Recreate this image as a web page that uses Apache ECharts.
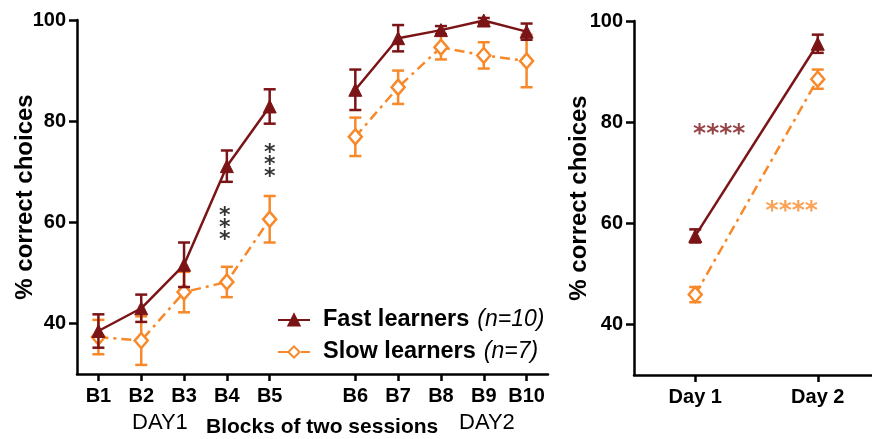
<!DOCTYPE html>
<html>
<head>
<meta charset="utf-8">
<script src="https://cdn.jsdelivr.net/npm/echarts@6/dist/echarts.min.js"></script>
<style>
  html, body { margin: 0; padding: 0; background: #fff; }
  #c { width: 872px; height: 439px; }
</style>
</head>
<body>
<div id="c"></div>
<script>
// ---- data ----
const blocks = ['B1', 'B2', 'B3', 'B4', 'B5', '', 'B6', 'B7', 'B8', 'B9', 'B10'];
const fastMean = [38.5, 43.0, 51.6, 71.1, 82.9, null, 86.2, 96.4, 98.0, 99.9, 97.7];
const fastErr  = [3.3, 2.7, 4.4, 3.1, 3.4, null, 4.0, 2.6, 0.8, 0.5, 1.6];
const slowMean = [37.3, 36.6, 46.2, 48.2, 60.6, null, 76.9, 86.7, 94.6, 93.0, 91.9];
const slowErr  = [3.4, 4.8, 4.0, 3.0, 4.6, null, 3.8, 3.3, 2.4, 2.6, 5.2];

const days = ['Day 1', 'Day 2'];
const dayFastMean = [57.5, 95.5];
const dayFastErr  = [1.3, 1.8];
const daySlowMean = [45.9, 88.5];
const daySlowErr  = [1.5, 1.9];

const yTicks = [40, 60, 80, 100];

const legendNames = ['Fast learners', 'Slow learners'];
const legendN = { 'Fast learners': '(n=10)', 'Slow learners': '(n=7)' };

// ---- styles ----
const RED = '#7B1416';
const ORANGE = '#F7892A';
const FONT = '"Liberation Sans", Arial, Helvetica, sans-serif';
const STAR_FONT = '"DejaVu Sans", sans-serif';
const DASH = [10, 5, 3, 5];

function meanData(m) { return m.map(v => (v == null ? '-' : v)); }
function errData(m, e) {
  const out = [];
  m.forEach((v, i) => { if (v != null) out.push([i, v - e[i], v + e[i]]); });
  return out;
}
function errRender(color) {
  return function (params, api) {
    const x = api.value(0);
    const lo = api.coord([x, api.value(1)]);
    const hi = api.coord([x, api.value(2)]);
    const w = 6;
    const style = { stroke: color, lineWidth: 2.5, fill: null };
    return {
      type: 'group',
      children: [
        { type: 'line', shape: { x1: lo[0], y1: lo[1], x2: hi[0], y2: hi[1] }, style },
        { type: 'line', shape: { x1: lo[0] - w, y1: lo[1], x2: lo[0] + w, y2: lo[1] }, style },
        { type: 'line', shape: { x1: hi[0] - w, y1: hi[1], x2: hi[0] + w, y2: hi[1] }, style }
      ]
    };
  };
}

const axisLineStyle = { lineStyle: { color: '#000', width: 2.5 } };

function yAxisFor(gridIndex, nameGap) {
  return {
    type: 'value', gridIndex, min: 30, max: 100,
    name: '% correct choices', nameLocation: 'middle', nameGap, nameRotate: 90, nameMoveOverlap: false,
    nameTextStyle: { fontFamily: FONT, fontWeight: 'bold', fontSize: 24, color: '#000' },
    axisLine: Object.assign({ show: true }, axisLineStyle),
    axisTick: { show: true, length: 8, inside: false, lineStyle: { color: '#000', width: 2.5 }, customValues: yTicks },
    axisLabel: { show: true, margin: 11, fontFamily: FONT, fontWeight: 'bold', fontSize: 20, color: '#000', customValues: yTicks },
    splitLine: { show: false }
  };
}

const chart = echarts.init(document.getElementById('c'), null, { renderer: 'canvas' });

const option = {
  animation: false,
  backgroundColor: '#fff',
  grid: [
    { left: 77, top: 20, width: 471, height: 354, outerBoundsMode: 'none', containLabel: false },
    { left: 634, top: 21, width: 245, height: 354, outerBoundsMode: 'none', containLabel: false }
  ],
  xAxis: [
    {
      type: 'category', gridIndex: 0, data: blocks, boundaryGap: true,
      axisLine: Object.assign({ show: true }, axisLineStyle),
      axisTick: { show: true, alignWithLabel: true, length: 7, lineStyle: { color: '#000', width: 2.5 },
        interval: (i, v) => v !== '' },
      axisLabel: { interval: 0, margin: 12, fontFamily: FONT, fontWeight: 'bold', fontSize: 20, color: '#000' }
    },
    {
      type: 'category', gridIndex: 1, data: days, boundaryGap: true,
      axisLine: Object.assign({ show: true }, axisLineStyle),
      axisTick: { show: true, alignWithLabel: true, length: 7, lineStyle: { color: '#000', width: 2.5 } },
      axisLabel: { interval: 0, margin: 12, fontFamily: FONT, fontWeight: 'bold', fontSize: 20, color: '#000' }
    }
  ],
  yAxis: [yAxisFor(0, 40), yAxisFor(1, 43)],
  legend: {
    data: legendNames,
    orient: 'vertical', left: 272, top: 303,
    itemWidth: 32, itemHeight: 14, itemGap: 8,
    formatter: name => '{b|' + name + '}{s| }{i|' + legendN[name] + '}',
    textStyle: {
      padding: [0, 0, 0, 8],
      rich: {
        b: { fontFamily: FONT, fontWeight: 'bold', fontSize: 23.5, color: '#000' },
        s: { fontFamily: FONT, fontSize: 23.5, width: 8 },
        i: { fontFamily: FONT, fontStyle: 'italic', fontSize: 23, color: '#000' }
      }
    },
    selectedMode: false
  },
  graphic: [
    { type: 'text', left: 132, top: 412, style: { text: 'DAY1', font: '22px ' + FONT, fill: '#000' } },
    { type: 'text', left: 206, top: 417, style: { text: 'Blocks of two sessions', font: 'bold 21px ' + FONT, fill: '#000' } },
    { type: 'text', left: 459, top: 412, style: { text: 'DAY2', font: '22px ' + FONT, fill: '#000' } }
  ],
  series: [
    { type: 'custom', name: 'slowErr', xAxisIndex: 0, yAxisIndex: 0, renderItem: errRender(ORANGE), data: errData(slowMean, slowErr), z: 2 },
    {
      type: 'line', name: 'Slow learners', xAxisIndex: 0, yAxisIndex: 0, data: meanData(slowMean), connectNulls: false,
      symbol: 'diamond', symbolSize: [13, 15], showAllSymbol: true,
      lineStyle: { color: ORANGE, width: 2.5, type: DASH },
      itemStyle: { color: '#fff', borderColor: ORANGE, borderWidth: 2.5 }, z: 3
    },
    { type: 'custom', name: 'fastErr', xAxisIndex: 0, yAxisIndex: 0, renderItem: errRender(RED), data: errData(fastMean, fastErr), z: 4 },
    {
      type: 'line', name: 'Fast learners', xAxisIndex: 0, yAxisIndex: 0, data: meanData(fastMean), connectNulls: false,
      symbol: 'triangle', symbolSize: 13, showAllSymbol: true,
      lineStyle: { color: RED, width: 2.5 },
      itemStyle: { color: RED, borderColor: RED, borderWidth: 1 }, z: 5
    },
    // right panel
    { type: 'custom', name: 'daySlowErr', xAxisIndex: 1, yAxisIndex: 1, renderItem: errRender(ORANGE), data: errData(daySlowMean, daySlowErr), z: 2 },
    {
      type: 'line', name: 'Slow day', xAxisIndex: 1, yAxisIndex: 1, data: daySlowMean,
      symbol: 'diamond', symbolSize: [13, 15],
      lineStyle: { color: ORANGE, width: 2.5, type: DASH },
      itemStyle: { color: '#fff', borderColor: ORANGE, borderWidth: 2.5 }, z: 3
    },
    { type: 'custom', name: 'dayFastErr', xAxisIndex: 1, yAxisIndex: 1, renderItem: errRender(RED), data: errData(dayFastMean, dayFastErr), z: 4 },
    {
      type: 'line', name: 'Fast day', xAxisIndex: 1, yAxisIndex: 1, data: dayFastMean,
      symbol: 'triangle', symbolSize: 13,
      lineStyle: { color: RED, width: 2.5 },
      itemStyle: { color: RED, borderColor: RED, borderWidth: 1 }, z: 5
    },
    // significance annotations
    {
      type: 'scatter', name: 'sig', xAxisIndex: 0, yAxisIndex: 0, symbolSize: 0, silent: true, z: 6,
      data: [
        { value: ['B4', 59.8], label: { offset: [-2, 5] } },
        { value: ['B5', 72.3], label: { offset: [0, 5] } }
      ],
      label: { show: true, position: 'inside', formatter: '*\n*\n*', fontFamily: STAR_FONT, fontWeight: 'bold', fontSize: 22, lineHeight: 12, color: '#000' }
    },
    {
      type: 'scatter', name: 'sigDay', xAxisIndex: 1, yAxisIndex: 1, symbolSize: 0, silent: true, z: 6,
      data: [
        { value: ['Day 1', 78.4], label: { color: RED, offset: [24, 4] } },
        { value: ['Day 2', 63.1], label: { color: ORANGE, offset: [-26, 4] } }
      ],
      label: { show: true, position: 'inside', formatter: '****', fontFamily: STAR_FONT, fontWeight: 'bold', fontSize: 25 }
    }
  ]
};
chart.setOption(option);
</script>
</body>
</html>
